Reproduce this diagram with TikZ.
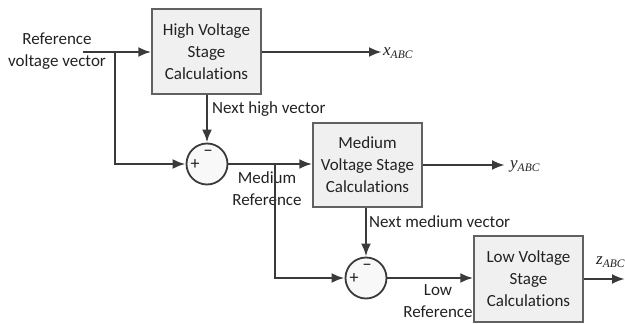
\documentclass[tikz,border=0pt]{standalone}
\usepackage{fontspec}
\setmainfont{Carlito}[RawFeature=-liga]
\newfontfamily\tms{Liberation Serif}
\usetikzlibrary{arrows.meta,calc}
\definecolor{lc}{HTML}{3A3A3A}
\definecolor{bf}{HTML}{F0F0F0}
\definecolor{tc}{HTML}{222222}
\newcommand{\outlab}[1]{{\tms\itshape\fontsize{17}{17}\selectfont #1}}
\newcommand{\sublab}[1]{\raisebox{-3.5pt}{\tms\itshape\fontsize{11.5}{11.5}\selectfont #1}}
\begin{document}
\begin{tikzpicture}[x=1pt,y=-1pt,
  txt/.style={font=\fontsize{17}{22}\selectfont, text=tc, align=center, inner sep=0pt},
  stagebox/.style={draw=lc!80, line width=1.4pt, fill=bf, minimum width=109pt, minimum height=85pt, align=center, inner sep=0pt, font=\fontsize{17}{22}\selectfont, text=tc},
  sumnode/.style={circle, draw=lc, line width=1.8pt, fill=bf!50, minimum size=41pt, inner sep=0pt},
  sgn/.style={font=\fontsize{18}{18}\selectfont, text=tc, inner sep=0pt},
  wire/.style={draw=lc, line width=2.6pt},
  arr/.style={wire, -{Latex[length=13pt,width=10pt]}}]
\useasboundingbox (0,0) rectangle (625,324);
% nodes
\node[stagebox] (high) at (206.5,51.5) {High Voltage\\Stage\\Calculations};
\node[stagebox, minimum height=84pt] (med) at (367.5,165) {Medium\\Voltage Stage\\Calculations};
\node[stagebox, minimum height=86pt] (low) at (528.5,279) {Low Voltage\\Stage\\Calculations};
\node[sumnode] (s1) at (207,164) {};
\node[sumnode] (s2) at (366,278) {};
\node[sgn] (p1) at ($(s1.center)+(-12,1)$) {+};
\node[sgn] (m1) at ($(s1.center)+(1,-11)$) {\textminus};
\node[sgn] (p2) at ($(s2.center)+(-12,1)$) {+};
\node[sgn] (m2) at ($(s2.center)+(1,-11)$) {\textminus};
% text labels
\node[txt] (inlab) at (57,51) {Reference\\voltage vector};
\node[txt, anchor=west] (nhv) at (212,109) {Next high vector};
\node[txt] (mref) at (267,189) {Medium\\Reference};
\node[txt, anchor=west] (nmv) at (369,222) {Next medium vector};
\node[txt] (lref) at (438,301) {Low\\Reference};
\node[anchor=west, inner sep=0pt, text=tc] (xo) at (383,53) {\outlab{x}\sublab{ABC}};
\node[anchor=west, inner sep=0pt, text=tc] (yo) at (510,166) {\outlab{y}\sublab{ABC}};
\node[anchor=west, inner sep=0pt, text=tc] (zo) at (596,262) {\outlab{z}\sublab{ABC}};
% coordinates
\coordinate (in) at (83,52);
\coordinate (j1) at (115,52);
\coordinate (j2) at (275,164);
\coordinate (xe) at (382,52);
\coordinate (ye) at (505,165);
\coordinate (ze) at (625,279);
% connectors
\draw[arr] (in) -- (high.west |- in);
\draw[arr] (j1) |- (s1.west);
\draw[arr] (high.south -| s1) -- (s1.north);
\draw[arr] (s1.east) -- (med.west |- s1);
\draw[arr] (j2) |- (s2.west);
\draw[arr] (med.south -| s2) -- (s2.north);
\draw[arr] (s2.east) -- (low.west |- s2);
\draw[arr] (high.east |- xe) -- (xe);
\draw[arr] (med.east |- ye) -- (ye);
\draw[arr] (low.east |- ze) -- (ze);
\end{tikzpicture}
\end{document}
